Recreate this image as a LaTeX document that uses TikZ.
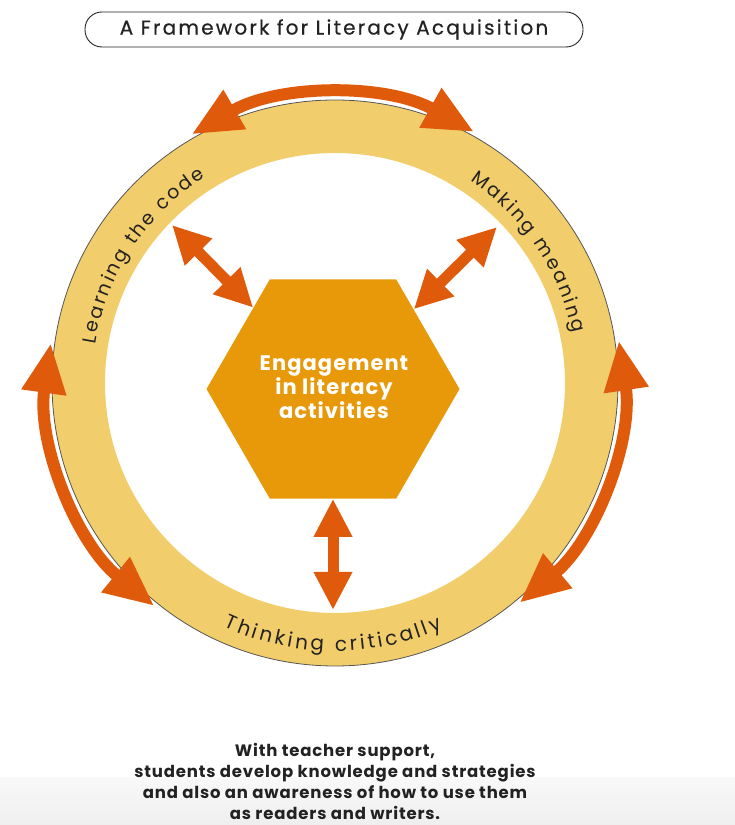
\documentclass[tikz,border=0pt]{standalone}
\usepackage{fontspec}
\setmainfont{Poppins}
\usetikzlibrary{arrows.meta,shapes.geometric,decorations.text}
\definecolor{ringyellow}{HTML}{F2CD6B}
\definecolor{hexorange}{HTML}{E8990A}
\definecolor{arrowred}{HTML}{E05A0B}
\definecolor{txtdark}{HTML}{222222}
\definecolor{ringline}{HTML}{555555}
\newcommand{\ringfont}{\fontsize{19}{19}\selectfont}
\newcommand{\ringfontb}{\fontsize{20}{20}\selectfont}
\begin{document}
\begin{tikzpicture}[x=1pt,y=1pt,
  ringarrow/.style={draw=arrowred, line width=12pt,
    {Triangle[length=50pt,width=42pt]}-{Triangle[length=50pt,width=42pt]}},
  hexarrow/.style={draw=arrowred, line width=11pt,
    {Triangle[length=38pt,width=36pt]}-{Triangle[length=38pt,width=36pt]}},
]
\useasboundingbox (0,0) rectangle (735,825);
% grey band at the bottom
\fill[top color=gray!5, bottom color=gray!13] (0,0) rectangle (735,47);
% title
\node[draw=txtdark, line width=0.9pt, rounded corners=17pt, minimum width=498pt,
  minimum height=35pt, text=txtdark,
  font=\addfontfeature{LetterSpace=11,FakeBold=0.5}\fontsize{20}{20}\selectfont] (title)
  at (334,795.5) {A Framework for Literacy Acquisition};
% ring
\coordinate (C) at (335,442);
\fill[ringyellow, even odd rule] (C) circle[radius=283] (C) circle[radius=230];
\draw[ringline, line width=0.8pt] (C) circle[radius=283];
% ring arrows
\draw[ringarrow] ([shift={(120:287)}]C) arc[start angle=120, end angle=61, radius=287];
\draw[ringarrow] ([shift={(172:287)}]C) arc[start angle=172, end angle=231, radius=287];
\draw[ringarrow] ([shift={(8.5:287)}]C) arc[start angle=8.5, end angle=-50, radius=287];
% ring texts
\path[decorate, decoration={text effects along path, text={Learning the code},
    text align=center, text effects/.cd, text along path,
    character widths={inner xsep=1.1pt, font=\ringfont},
    characters={inner xsep=0pt, inner ysep=0pt, text=txtdark, font=\ringfont}}]
  ([shift={(178:243)}]C) arc[start angle=178, end angle=115, radius=243];
\path[decorate, decoration={text effects along path, text={Making meaning},
    text align=center, text effects/.cd, text along path,
    character widths={inner xsep=1.1pt, font=\ringfont},
    characters={inner xsep=0pt, inner ysep=0pt, text=txtdark, font=\ringfont}}]
  ([shift={(65:243)}]C) arc[start angle=65, end angle=3, radius=243];
\path[decorate, decoration={text effects along path, text={Thinking critically},
    text align=center, text effects/.cd, text along path,
    character widths={inner xsep=1.5pt, font=\ringfontb},
    characters={inner xsep=0pt, inner ysep=0pt, text=txtdark, font=\ringfontb}}]
  ([shift={(238:268)}]C) arc[start angle=238, end angle=301, radius=268];
% hexagon
\node[regular polygon, regular polygon sides=6, minimum size=253pt, inner sep=0pt,
  fill=hexorange] (hex) at (333,436) {};
\node[text=white, align=center,
  font=\bfseries\addfontfeature{LetterSpace=5}\fontsize{21}{24}\selectfont] (hextext)
  at (334,438) {Engagement\\in literacy\\activities};
% arrows from hexagon
\coordinate (tl) at (172,600);
\coordinate (tr) at (497,598);
\coordinate (bt) at (333,215);
\draw[hexarrow] (tl) -- (hex);
\draw[hexarrow] (tr) -- (hex);
\draw[hexarrow] (bt) -- (hex);
% caption
\node[text=txtdark, align=center,
  font=\bfseries\addfontfeature{LetterSpace=5}\fontsize{16.5}{21}\selectfont] (caption)
  at (335,44) {With teacher support,\\students develop knowledge and strategies\\and also an awareness of how to use them\\as readers and writers.};
\end{tikzpicture}
\end{document}
